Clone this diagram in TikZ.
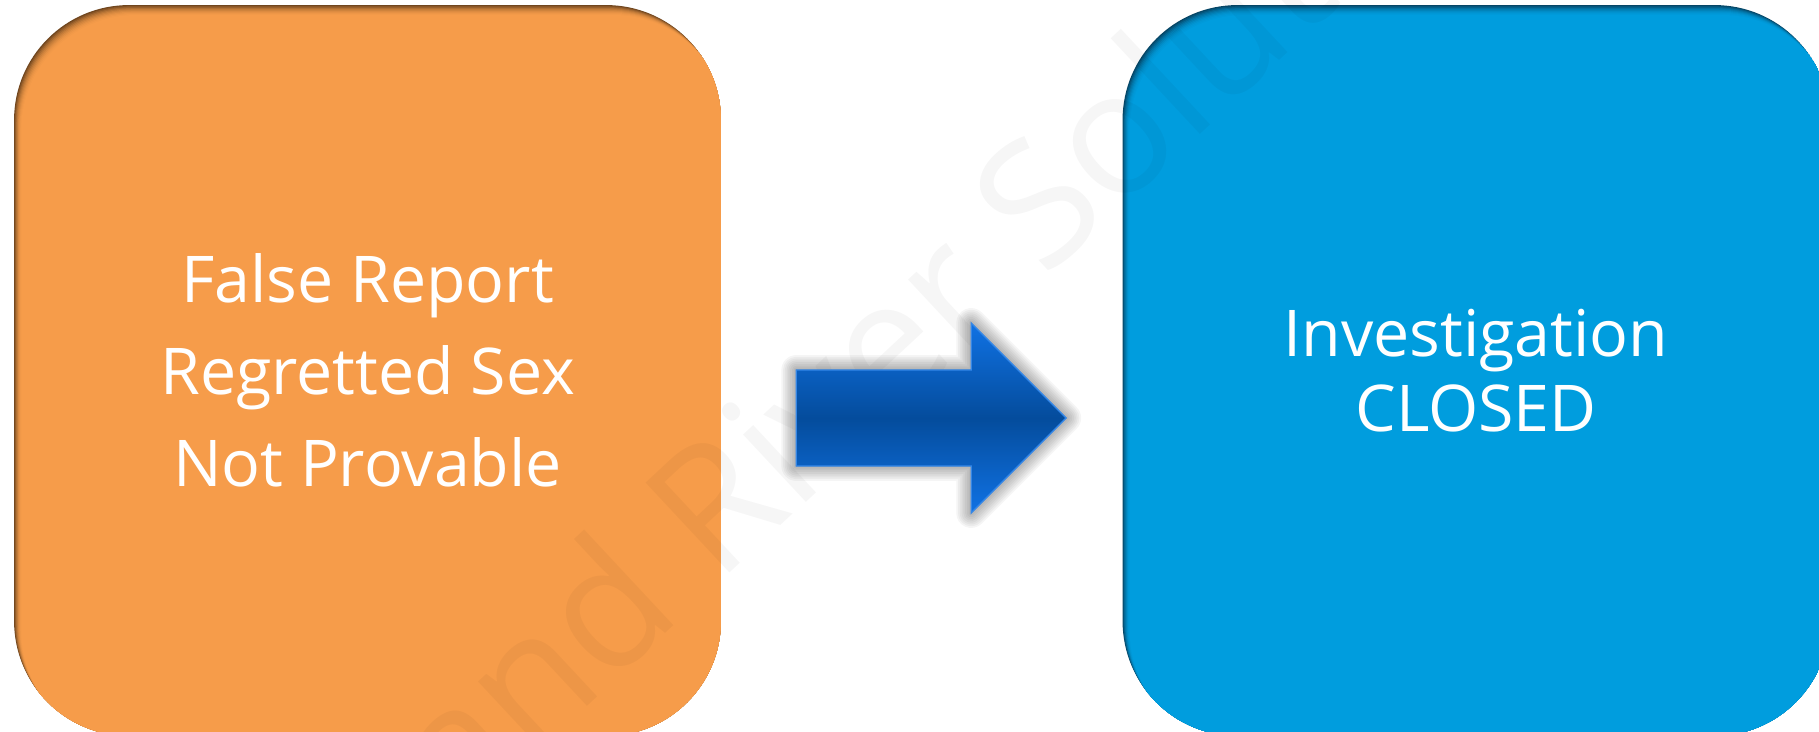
\documentclass[tikz,border=0pt]{standalone}
\usepackage{fontspec}
\setmainfont{Open Sans}
\usepackage{tikz}
\usetikzlibrary{positioning, calc}
\definecolor{myorange}{RGB}{246,156,74}
\definecolor{myblue}{RGB}{0,157,222}
\definecolor{shdorange}{RGB}{112,70,30}
\definecolor{shdblue}{RGB}{6,70,102}
\definecolor{arrlight}{RGB}{16,114,228}
\definecolor{arrdeep}{RGB}{4,76,156}
\tikzset{
  panel/.style 2 args={rectangle, fill=#2, text=white, align=center,
    minimum width=14.14cm, minimum height=14.62cm, rounded corners=2.3cm,
    inner sep=0pt,
    path picture={
      \foreach \s/\c in {1/20,2/38,3/54,4/67,5/78,6/87,7/93,8/97,9/100}
        \fill[#1!\c!#2, rounded corners=2.3cm]
          ($(path picture bounding box.south west)+(0.8*\s,-1.1*\s)$) rectangle
          ($(path picture bounding box.north east)+(0.8*\s,-1.1*\s)$);
    }},
  bigtext/.style={font=\fontsize{36.7pt}{52.4pt}\selectfont},
  midtext/.style={font=\fontsize{36.7pt}{42.7pt}\selectfont},
  wmark/.style={font=\fontsize{98pt}{98pt}\selectfont, text=black, text opacity=0.035},
  arrshadow/.style={black, opacity=0.04, draw, line join=round}
}
\newcommand{\arrowshape}{($(arrtail)+(0,48)$) -- ($(arrtip)+(-95,48)$) -- ($(arrtip)+(-95,95)$) -- (arrtip) -- ($(arrtip)+(-95,-95)$) -- ($(arrtip)+(-95,-48)$) -- ($(arrtail)+(0,-48)$) -- cycle}

\begin{document}
\begin{tikzpicture}[x=0.02cm, y=0.02cm]
\useasboundingbox (0,0) rectangle (1819,731);
\node[panel={myorange}{shdorange}, bigtext] (report) at (367.5,360.5) {False Report\\Regretted Sex\\Not Provable};
\node[panel={myblue}{shdblue}, midtext, right=8.02cm of report] (closed) {Investigation\\CLOSED};

\node[wmark, rotate=43, anchor=base west] (brand) at (315,-229) {Grand River Solutions};

\coordinate (arrtail) at ($(report.east)+(75,-47.5)$);
\coordinate (arrtip) at ($(closed.west)+(-56,-47.5)$);
\begin{scope}[shift={(18,-36)}]
  \foreach \w in {1,3,5,7,9,11,13,15,17}
    \fill[arrshadow, line width=\w pt] \arrowshape;
\end{scope}
\shade[top color=arrlight, bottom color=arrlight, middle color=arrdeep] \arrowshape;
\draw[arrlight!85!white, line width=0.8pt] \arrowshape;
\end{tikzpicture}
\end{document}
